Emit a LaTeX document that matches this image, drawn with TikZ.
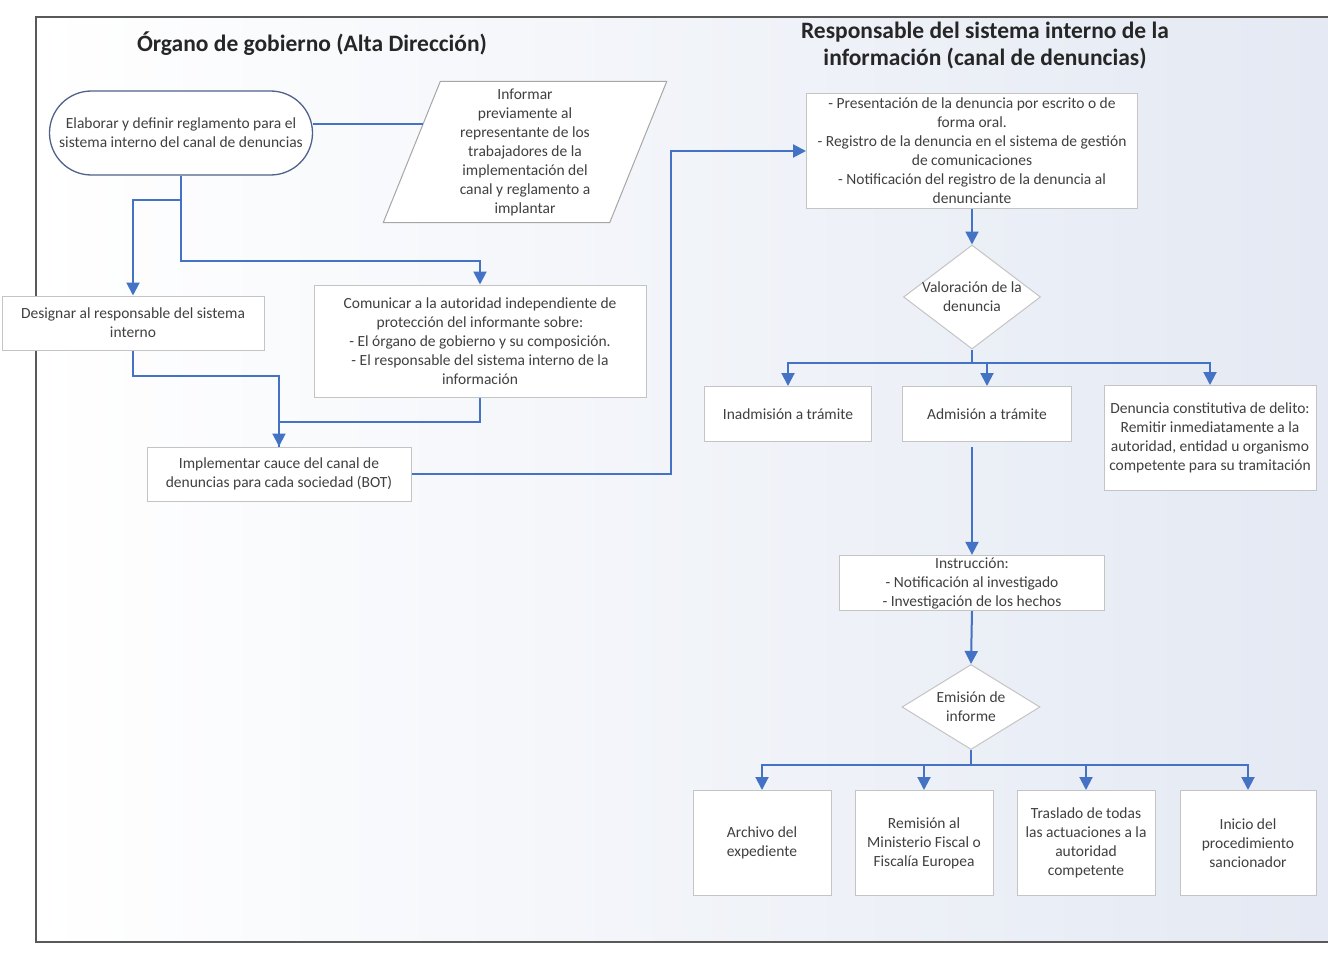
\documentclass[tikz,border=0pt]{standalone}
\usepackage{fontspec}
\setmainfont{Carlito}
\usetikzlibrary{arrows.meta,shapes.geometric,calc}

\definecolor{flowblue}{HTML}{4472C4}
\definecolor{boxgray}{HTML}{C4C4C4}
\definecolor{txtgray}{HTML}{404040}
\definecolor{termline}{HTML}{4F6289}
\definecolor{bgblue}{HTML}{E4E9F3}

\begin{document}
\begin{tikzpicture}[x=1pt,y=-1pt]
    \tikzstyle{fbox}=[draw=boxgray, line width=1pt, fill=white, align=center,
                      text=txtgray, font=\fontsize{15.5}{19}\selectfont, inner sep=2pt]
    \tikzstyle{fterm}=[fbox, rounded corners=42pt, draw=termline, line width=1.3pt]
    \tikzstyle{fdec}=[fbox, diamond, inner sep=0pt]
    \tikzstyle{fpara}=[fbox, trapezium, trapezium left angle=71, trapezium right angle=109,
                       trapezium stretches=true, draw=gray!70]
    \tikzstyle{fline}=[draw=flowblue, line width=2pt]
    \tikzstyle{farrow}=[fline, -{Triangle[width=13pt,length=13pt]}]
    \tikzstyle{ftitle}=[font=\fontsize{23.5}{27}\selectfont\bfseries, text=black!85, align=center]

    \useasboundingbox (0,0) rectangle (1328,955);

    % Background and frame
    \shade[left color=white, middle color=white, right color=bgblue] (36,17) rectangle (1328,942);
    \draw[black!65, line width=1.5pt] (1328,17) -- (36,17) -- (36,942) -- (1328,942);

    % Titles
    \node[ftitle] (tgov) at (312,44) {Órgano de gobierno (Alta Dirección)};
    \node[ftitle] (tresp) at (985,46) {Responsable del sistema interno de la\\información (canal de denuncias)};

    % Organo de gobierno
    \node[fterm, minimum width=263, minimum height=84] (start) at (181,133)
        {Elaborar y definir reglamento para el\\sistema interno del canal de denuncias};
    \node[fpara, minimum width=284, minimum height=141] (para) at (525,152)
        {Informar\\previamente al\\representante de los\\trabajadores de la\\implementación del\\canal y reglamento a\\implantar};
    \node[fbox, minimum width=262, minimum height=54] (desig) at (133,323)
        {Designar al responsable del sistema\\interno};
    \node[fbox, minimum width=332, minimum height=112] (comm) at (480,341)
        {Comunicar a la autoridad independiente de\\protección del informante sobre:\\- El órgano de gobierno y su composición.\\- El responsable del sistema interno de la\\información};
    \node[fbox, minimum width=264, minimum height=54] (impl) at (279,474)
        {Implementar cauce del canal de\\denuncias para cada sociedad (BOT)};

    % Responsable del sistema interno
    \node[fbox, minimum width=331, minimum height=115] (pres) at (972,151)
        {- Presentación de la denuncia por escrito o de\\forma oral.\\- Registro de la denuncia en el sistema de gestión\\de comunicaciones\\- Notificación del registro de la denuncia al\\denunciante};
    \node[fdec, minimum width=137, minimum height=104,
          label={[text=txtgray, font=\fontsize{15.5}{19}\selectfont, align=center]center:Valoración de la\\denuncia}]
        (val) at (972,297) {};
    \node[fbox, minimum width=167, minimum height=55] (inad) at (788,414) {Inadmisión a trámite};
    \node[fbox, minimum width=169, minimum height=55] (adm) at (987,414) {Admisión a trámite};
    \node[fbox, minimum width=212, minimum height=105] (delito) at (1210,438)
        {Denuncia constitutiva de delito:\\Remitir inmediatamente a la\\autoridad, entidad u organismo\\competente para su tramitación};
    \node[fbox, minimum width=265, minimum height=54] (instr) at (972,583)
        {Instrucción:\\- Notificación al investigado\\- Investigación de los hechos};
    \node[fdec, minimum width=138, minimum height=85,
          label={[text=txtgray, font=\fontsize{15.5}{19}\selectfont, align=center]center:Emisión de\\informe}]
        (emi) at (971,707) {};
    \node[fbox, minimum width=138, minimum height=105] (arch) at (762,843) {Archivo del\\expediente};
    \node[fbox, minimum width=138, minimum height=105] (remi) at (924,843) {Remisión al\\Ministerio Fiscal o\\Fiscalía Europea};
    \node[fbox, minimum width=138, minimum height=105] (tras) at (1086,843) {Traslado de todas\\las actuaciones a la\\autoridad\\competente};
    \node[fbox, minimum width=136, minimum height=105] (inic) at (1248,843) {Inicio del\\procedimiento\\sancionador};

    % Connectors, left side
    \coordinate (parain) at ($(para.top left corner)!0.3!(para.bottom left corner)$);
    \draw[fline] (start.east |- parain) -- (parain);
    \draw[farrow] (start.south) -- ++(0,24) -| (desig.north);
    \draw[farrow] (start.south) -- ++(0,85) -| (comm.north);
    \draw[farrow] (desig.south) -- ++(0,25) -| (impl.north);
    \draw[fline] (comm.south) -- ++(0,24) -| (impl.north);
    \draw[farrow] (impl.east) -- ++(259,0) |- (pres.west);

    % Connectors, right side
    \draw[farrow] (pres.south) -- (val.north);
    \draw[fline] (val.south) -- ++(0,13) coordinate (valsplit);
    \draw[farrow] (valsplit) -| (inad.north);
    \draw[farrow] (valsplit) -| (adm.north);
    \draw[farrow] (valsplit) -| (delito.north);
    \draw[farrow] ($(instr.north |- adm.south)+(0,5)$) -- (instr.north);
    \draw[farrow] (instr.south) -- (emi.north);
    \draw[fline] (emi.south) -- ++(0,15) coordinate (emisplit);
    \draw[farrow] (emisplit) -| (arch.north);
    \draw[farrow] (emisplit) -| (remi.north);
    \draw[farrow] (emisplit) -| (tras.north);
    \draw[farrow] (emisplit) -| (inic.north);
\end{tikzpicture}
\end{document}
